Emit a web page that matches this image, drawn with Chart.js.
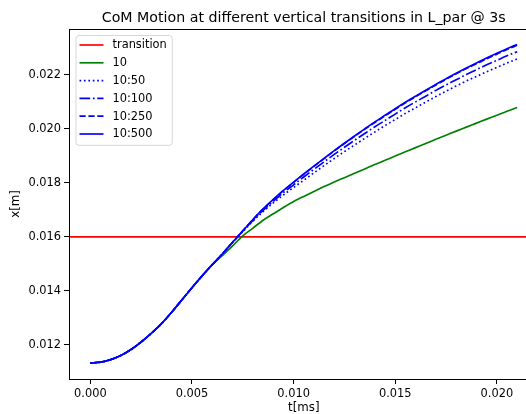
<!DOCTYPE html>
<html>
<head>
<meta charset="utf-8">
<script src="https://cdn.jsdelivr.net/npm/chart.js@4/dist/chart.umd.min.js"></script>
<style>
  html, body { margin: 0; padding: 0; background: #fff; overflow: hidden; }
  #wrap { width: 526px; height: 414px; overflow: hidden; }
</style>
</head>
<body>
<div id="wrap"><canvas id="chart" width="560" height="414"></canvas></div>
<script>
// time axis (t[ms])
const tMs = [0, 0.0005, 0.001, 0.0015, 0.002, 0.0025, 0.003, 0.0035, 0.004, 0.0045,
  0.005, 0.0055, 0.006, 0.0065, 0.007, 0.0075, 0.008, 0.0085, 0.009, 0.0095,
  0.010, 0.0105, 0.011, 0.0115, 0.012, 0.0125, 0.013, 0.0135, 0.014, 0.0145,
  0.015, 0.0155, 0.016, 0.0165, 0.017, 0.0175, 0.018, 0.0185, 0.019, 0.0195,
  0.020, 0.0205, 0.021];

// shared start of all runs (t = 0 .. 0.006)
const riseStart = [0.011333, 0.011363, 0.011456, 0.011611, 0.011830, 0.012111, 0.012433,
  0.012789, 0.013210, 0.013665, 0.014122, 0.014559, 0.014974];

// x[m] per run, from t = 0.0065 on
const tail10 = [0.015315, 0.015667, 0.016044, 0.016326, 0.016619, 0.016856, 0.017089,
  0.017311, 0.017500, 0.017685, 0.017867, 0.018033, 0.018196, 0.018359, 0.018519,
  0.018681, 0.018837, 0.018996, 0.019152, 0.019307, 0.019463, 0.019615, 0.019767,
  0.019919, 0.020067, 0.020215, 0.020363, 0.020507, 0.020656, 0.020796];
const tail10_50 = [0.015378, 0.015794, 0.016196, 0.016584, 0.016937, 0.017259, 0.017552,
  0.017830, 0.018100, 0.018372, 0.018641, 0.018906, 0.019160, 0.019407, 0.019650,
  0.019889, 0.020124, 0.020348, 0.020575, 0.020781, 0.020993, 0.021198, 0.021399,
  0.021589, 0.021775, 0.021944, 0.022116, 0.022280, 0.022440, 0.022590];
const tail10_100 = [0.015378, 0.015804, 0.016216, 0.016614, 0.016987, 0.017319, 0.017642,
  0.017930, 0.018220, 0.018502, 0.018781, 0.019056, 0.019320, 0.019577, 0.019830,
  0.020079, 0.020314, 0.020548, 0.020785, 0.021001, 0.021213, 0.021428, 0.021629,
  0.021819, 0.022015, 0.022194, 0.022376, 0.022540, 0.022710, 0.022860];
const tail10_250 = [0.015378, 0.015804, 0.016226, 0.016644, 0.017037, 0.017379, 0.017712,
  0.018020, 0.018320, 0.018612, 0.018901, 0.019186, 0.019460, 0.019727, 0.019990,
  0.020239, 0.020484, 0.020728, 0.020965, 0.021191, 0.021413, 0.021628, 0.021839,
  0.022039, 0.022235, 0.022414, 0.022596, 0.022770, 0.022940, 0.023100];
const tail10_500 = [0.015378, 0.015804, 0.016226, 0.016644, 0.017037, 0.017389, 0.017722,
  0.018030, 0.018330, 0.018622, 0.018911, 0.019196, 0.019470, 0.019737, 0.020000,
  0.020259, 0.020504, 0.020748, 0.020985, 0.021211, 0.021433, 0.021648, 0.021859,
  0.022059, 0.022255, 0.022444, 0.022626, 0.022800, 0.022970, 0.023130];

const transitionLevel = 0.016;
const seriesLabels = ['transition', '10', '10:50', '10:100', '10:250', '10:500'];
const xTicks = [0.000, 0.005, 0.010, 0.015, 0.020];
const yTicks = [0.012, 0.014, 0.016, 0.018, 0.020, 0.022];
const xLimits = [-0.00105, 0.02205];
const yLimits = [0.01074, 0.0237];

const FONT = 'DejaVu Sans';
const LW = 1.67;

function toPoints(ys) {
  return tMs.map((t, i) => ({ x: t, y: ys[i] }));
}

const series = [
  riseStart.concat(tail10),
  riseStart.concat(tail10_50),
  riseStart.concat(tail10_100),
  riseStart.concat(tail10_250),
  riseStart.concat(tail10_500)
];
const colors = ['#008000', '#0000ff', '#0000ff', '#0000ff', '#0000ff'];
const dashes = [[], [1.67, 2.75], [10.7, 2.7, 1.7, 2.7], [6.2, 2.7], []];

const datasets = [{
  label: seriesLabels[0],
  data: [{ x: xLimits[0], y: transitionLevel }, { x: xLimits[1], y: transitionLevel }],
  borderColor: '#ff0000',
  borderWidth: LW,
  borderDash: [],
  pointRadius: 0,
  order: 10
}];
series.forEach((ys, i) => {
  datasets.push({
    label: seriesLabels[i + 1],
    data: toPoints(ys),
    borderColor: colors[i],
    borderWidth: LW,
    borderDash: dashes[i],
    pointRadius: 0,
    cubicInterpolationMode: 'monotone',
    order: 9 - i // later series on top, like matplotlib
  });
});

// title, frame and legend box drawn on top of the chart
const decor = {
  id: 'decor',
  afterDraw(chart) {
    const ctx = chart.ctx;
    const a = chart.chartArea;
    ctx.save();
    // frame
    ctx.strokeStyle = '#000';
    ctx.lineWidth = 1;
    ctx.strokeRect(Math.round(a.left) + 0.5, Math.round(a.top) + 0.5,
      Math.round(a.right - a.left), Math.round(a.bottom - a.top));

    // title
    ctx.fillStyle = '#000';
    ctx.font = '14.2px "' + FONT + '"';
    ctx.textAlign = 'center';
    ctx.textBaseline = 'alphabetic';
    ctx.fillText('CoM Motion at different vertical transitions in L_par @ 3s',
      (a.left + a.right) / 2, 21.5);

    // legend
    ctx.font = '11.4px "' + FONT + '"';
    const ds = chart.data.datasets;
    let maxW = 0;
    ds.forEach(d => { maxW = Math.max(maxW, ctx.measureText(d.label).width); });
    const bx = a.left + 6.5, by = a.top + 6;
    const rowH = 17.8;
    const textX = bx + 37;
    const bw = textX - bx + maxW + 5;
    const bh = rowH * ds.length + 3;
    ctx.beginPath();
    ctx.roundRect(bx + 0.5, by + 0.5, bw, bh, 3);
    ctx.fillStyle = 'rgba(255,255,255,0.8)';
    ctx.fill();
    ctx.strokeStyle = 'rgba(204,204,204,0.8)';
    ctx.lineWidth = 1;
    ctx.stroke();
    ctx.textAlign = 'left';
    ctx.textBaseline = 'middle';
    ds.forEach((d, i) => {
      const cy = by + 10 + i * rowH;
      ctx.beginPath();
      ctx.setLineDash(d.borderDash || []);
      ctx.strokeStyle = d.borderColor;
      ctx.lineWidth = d.borderWidth;
      ctx.moveTo(bx + 4, cy);
      ctx.lineTo(bx + 28, cy);
      ctx.stroke();
      ctx.setLineDash([]);
      ctx.fillStyle = '#000';
      ctx.fillText(d.label, textX, cy + 0.5);
    });
    ctx.restore();
  }
};

new Chart(document.getElementById('chart').getContext('2d'), {
  type: 'line',
  data: { datasets: datasets },
  options: {
    responsive: false,
    animation: false,
    devicePixelRatio: 1,
    layout: { padding: { left: 0, top: 29, right: 21.5, bottom: 0 } },
    plugins: {
      legend: { display: false },
      tooltip: { enabled: false },
      title: { display: false }
    },
    scales: {
      x: {
        type: 'linear',
        min: xLimits[0],
        max: xLimits[1],
        afterBuildTicks: (scale) => { scale.ticks = xTicks.map(v => ({ value: v })); },
        afterFit: (scale) => { scale.height = 35; },
        grid: { drawOnChartArea: false, drawTicks: true, tickLength: 5, color: '#000' },
        border: { display: true, color: '#000', width: 1 },
        ticks: {
          color: '#000',
          padding: 3,
          maxRotation: 0,
          font: { family: FONT, size: 11.4 },
          callback: (v) => Number(v).toFixed(3)
        },
        title: {
          display: true,
          text: 't[ms]',
          color: '#000',
          padding: { top: 0, bottom: 0 },
          font: { family: FONT, size: 11.8, lineHeight: 1 }
        }
      },
      y: {
        type: 'linear',
        min: yLimits[0],
        max: yLimits[1],
        afterBuildTicks: (scale) => { scale.ticks = yTicks.map(v => ({ value: v })); },
        afterFit: (scale) => { scale.width = 69; },
        grid: { drawOnChartArea: false, drawTicks: true, tickLength: 5, color: '#000' },
        border: { display: true, color: '#000', width: 1 },
        ticks: {
          color: '#000',
          padding: 3,
          font: { family: FONT, size: 11.4 },
          callback: (v) => Number(v).toFixed(3)
        },
        title: {
          display: true,
          text: 'x[m]',
          color: '#000',
          padding: { top: 10, bottom: 0 },
          font: { family: FONT, size: 11.8, lineHeight: 1 }
        }
      }
    }
  },
  plugins: [decor]
});
</script>
</body>
</html>
